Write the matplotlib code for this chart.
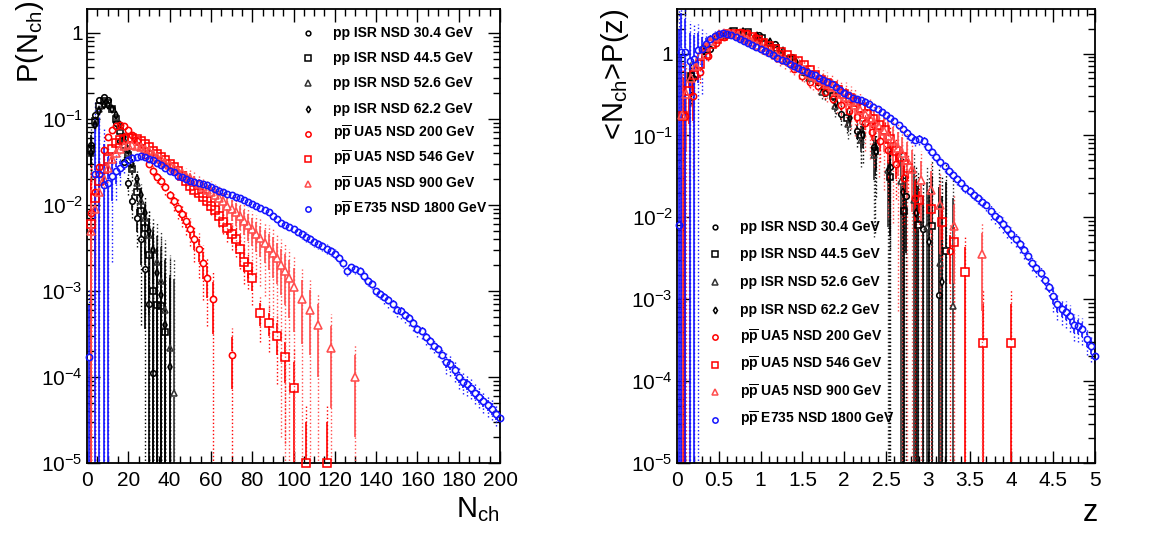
import numpy as np
import matplotlib
matplotlib.use("Agg")
import matplotlib.pyplot as plt
from matplotlib.ticker import MultipleLocator, FixedLocator, LogLocator, NullFormatter, FuncFormatter

plt.rcParams["font.family"] = ["Liberation Sans", "DejaVu Sans"]
plt.rcParams["mathtext.fontset"] = "custom"
plt.rcParams["mathtext.rm"] = "Liberation Sans"
plt.rcParams["mathtext.it"] = "Liberation Sans:italic"
plt.rcParams["mathtext.bf"] = "Liberation Sans:bold"

# ---------------- multiplicity distributions P(N_ch) ----------------
# rel errors are fractional statistical errors
n_isr304 = [2, 4, 6, 8, 10, 12, 14, 16, 18, 20, 22, 24, 26, 28, 30, 32]
p_isr304 = [0.05, 0.11, 0.165, 0.18, 0.165, 0.13, 0.09, 0.055, 0.032, 0.018,
            0.011, 0.007, 0.004, 0.0018, 0.0007, 0.00011]
e_isr304 = [0.3, 0.08, 0.05, 0.05, 0.05, 0.05, 0.06, 0.08, 0.1, 0.15,
            0.2, 0.3, 0.5, 0.8, 1.5, 20]

n_isr445 = [2, 4, 6, 8, 10, 12, 14, 16, 18, 20, 22, 24, 26, 28, 30, 32, 34, 36, 38]
p_isr445 = [0.045, 0.095, 0.14, 0.16, 0.155, 0.13, 0.10, 0.072, 0.05, 0.038,
            0.026, 0.014, 0.0085, 0.0054, 0.0026, 0.001, 0.00068, 0.00067, 0.00033]
e_isr445 = [0.3, 0.08, 0.05, 0.05, 0.05, 0.05, 0.05, 0.06, 0.08, 0.1,
            0.15, 0.2, 0.3, 0.5, 0.8, 1.2, 2.0, 3.0, 6.0]

n_isr526 = [2, 4, 6, 8, 10, 12, 14, 16, 18, 20, 22, 24, 26, 28, 30, 32, 34, 36, 38, 40, 42]
p_isr526 = [0.04, 0.09, 0.13, 0.15, 0.15, 0.13, 0.105, 0.08, 0.058, 0.04,
            0.027, 0.018, 0.011, 0.007, 0.0045, 0.003, 0.0022, 0.0013, 0.0006, 0.00022, 0.000065]
e_isr526 = [0.3, 0.08, 0.05, 0.05, 0.05, 0.05, 0.05, 0.05, 0.06, 0.08,
            0.1, 0.15, 0.2, 0.3, 0.5, 0.8, 1.0, 1.5, 2.5, 6.0, 20]

n_isr622 = [2, 4, 6, 8, 10, 12, 14, 16, 18, 20, 22, 24, 26, 28, 30, 32, 34, 36, 38, 40]
p_isr622 = [0.04, 0.085, 0.125, 0.145, 0.145, 0.13, 0.11, 0.085, 0.062, 0.044,
            0.03, 0.02, 0.013, 0.008, 0.005, 0.003, 0.0016, 0.0009, 0.0004, 0.00013]
e_isr622 = [0.3, 0.08, 0.05, 0.05, 0.05, 0.05, 0.05, 0.05, 0.06, 0.08,
            0.1, 0.15, 0.2, 0.3, 0.4, 0.6, 1.0, 1.5, 3.0, 10]

n_ua5200 = [2, 4, 6, 8, 10, 12, 14, 16, 18, 20, 22, 24, 26, 28, 30, 32, 34, 36, 38, 40,
            42, 44, 46, 48, 50, 52, 54, 56, 58, 61, 70]
p_ua5200 = [0.008, 0.014, 0.028, 0.044, 0.062, 0.074, 0.082, 0.085, 0.083, 0.075,
            0.065, 0.056, 0.047, 0.038, 0.030, 0.025, 0.021, 0.019, 0.016, 0.013,
            0.011, 0.0093, 0.0078, 0.0066, 0.0052, 0.0040, 0.0031, 0.0021, 0.0014, 0.0008, 0.00018]
e_ua5200 = [1.5, 0.5, 0.15, 0.08, 0.05, 0.05, 0.05, 0.05, 0.05, 0.05,
            0.05, 0.05, 0.05, 0.06, 0.06, 0.07, 0.08, 0.08, 0.1, 0.1,
            0.12, 0.14, 0.16, 0.18, 0.2, 0.25, 0.3, 0.35, 0.4, 0.6, 0.6]

n_ua5546 = [2, 4, 6, 8, 10, 12, 14, 16, 18, 20, 22, 24, 26, 28, 30, 32, 34, 36, 38, 40,
            42, 44, 46, 48, 50, 52, 54, 56, 58, 60, 62, 64, 66, 68, 70, 72, 74, 76, 78, 80,
            84, 88, 92, 96, 100, 106, 116]
p_ua5546 = [0.006, 0.012, 0.019, 0.026, 0.034, 0.045, 0.052, 0.057, 0.059, 0.060,
            0.060, 0.058, 0.055, 0.051, 0.047, 0.043, 0.039, 0.036, 0.033, 0.030,
            0.028, 0.025, 0.022, 0.019, 0.0165, 0.015, 0.0138, 0.0125, 0.011, 0.0098,
            0.0088, 0.0075, 0.0063, 0.0054, 0.0046, 0.0040, 0.0031, 0.0022, 0.0019, 0.0014,
            0.00056, 0.00043, 0.00030, 0.00017, 0.000075, 0.00001, 0.00001]
e_ua5546 = [2.0, 0.6, 0.2, 0.1, 0.06, 0.05, 0.05, 0.05, 0.05, 0.05,
            0.05, 0.05, 0.05, 0.05, 0.05, 0.05, 0.05, 0.05, 0.05, 0.05,
            0.06, 0.06, 0.07, 0.07, 0.08, 0.08, 0.09, 0.1, 0.11, 0.12,
            0.13, 0.14, 0.15, 0.17, 0.19, 0.21, 0.23, 0.25, 0.25, 0.28,
            0.3, 0.3, 0.4, 0.5, 1.0, 2.0, 2.0]

n_ua5900 = [2, 4, 6, 8, 10, 12, 14, 16, 18, 20, 22, 24, 26, 28, 30, 32, 34, 36, 38, 40,
            42, 44, 46, 48, 50, 52, 54, 56, 58, 60, 62, 64, 66, 68, 70, 72, 74, 76, 78, 80,
            82, 84, 86, 88, 90, 92, 94, 96, 98, 100, 104, 108, 112, 118, 130]
p_ua5900 = [0.005, 0.009, 0.014, 0.020, 0.027, 0.034, 0.040, 0.045, 0.048, 0.050,
            0.050, 0.049, 0.047, 0.045, 0.042, 0.039, 0.036, 0.034, 0.031, 0.029,
            0.027, 0.025, 0.0235, 0.022, 0.0205, 0.019, 0.0175, 0.016, 0.015, 0.014,
            0.013, 0.012, 0.011, 0.0098, 0.009, 0.0082, 0.0074, 0.0066, 0.0058, 0.0052,
            0.0046, 0.0041, 0.0036, 0.0032, 0.0028, 0.0024, 0.0020, 0.0017, 0.0014, 0.0011,
            0.0008, 0.0006, 0.0004, 0.00022, 0.0001]
e_ua5900 = [2.0, 0.8, 0.3, 0.15, 0.1, 0.08, 0.07, 0.07, 0.07, 0.07,
            0.07, 0.07, 0.07, 0.07, 0.08, 0.08, 0.08, 0.09, 0.09, 0.1,
            0.1, 0.11, 0.12, 0.13, 0.14, 0.15, 0.16, 0.17, 0.18, 0.2,
            0.2, 0.22, 0.24, 0.26, 0.28, 0.3, 0.3, 0.32, 0.34, 0.36,
            0.38, 0.4, 0.42, 0.45, 0.5, 0.5, 0.55, 0.6, 0.65, 0.7,
            0.7, 0.7, 0.75, 0.8, 0.8]

n_e735 = np.concatenate(([1], np.arange(4, 201, 2)))
p_e735 = [0.00017,
          0.023, 0.023, 0.017, 0.018, 0.022, 0.025, 0.027, 0.030, 0.033, 0.035,
          0.036, 0.037, 0.036, 0.034, 0.033, 0.031, 0.029, 0.027, 0.025, 0.024,
          0.022, 0.021, 0.020, 0.019, 0.0185, 0.018, 0.0175, 0.017, 0.016, 0.0152,
          0.0145, 0.014, 0.0135, 0.013, 0.0125, 0.012, 0.0113, 0.0108, 0.0103, 0.0097,
          0.0092, 0.0087, 0.0082, 0.0075, 0.0068, 0.0062, 0.0058, 0.0055, 0.0052, 0.0049,
          0.0046, 0.0043, 0.0040, 0.0037, 0.0035, 0.0033, 0.0031, 0.0029, 0.0027, 0.0024,
          0.0021, 0.0017, 0.0019, 0.0018, 0.0017, 0.0015, 0.0013, 0.0012, 0.0010, 0.00092,
          0.00085, 0.00078, 0.00070, 0.00060, 0.00058, 0.00052, 0.00048, 0.00042, 0.00036, 0.00034,
          0.00029, 0.00026, 0.00023, 0.00021, 0.00018, 0.00015, 0.00014, 0.00012, 0.00010, 0.000088,
          0.000082, 0.000075, 0.000066, 0.000059, 0.000052, 0.000047, 0.000043, 0.000037, 0.000033]
e_e735 = ([3.0, 3.3, 3.3, 2.0, 1.0, 0.5, 0.3, 0.2, 0.12, 0.08, 0.06]
          + [0.05] * 40 + [0.07] * 20 + [0.1] * 15 + [0.15] * 14)

# ---------------- KNO variables: z = N/<N>, <N>P(z) ----------------
mean_isr304 = 10.2
mean_isr445 = 11.8
mean_isr526 = 12.7
mean_isr622 = 12.6
mean_ua5200 = 21.4
mean_ua5546 = 29.0
mean_ua5900 = 35.6

# E735 KNO points
z_e735 = np.concatenate(([0.02], np.arange(1, 101) * 0.05))
psi_e735 = [0.008,
            1.05, 1.05, 0.80, 0.85, 1.10, 1.15, 1.30, 1.50, 1.65, 1.75,
            1.80, 1.75, 1.70, 1.60, 1.50, 1.42, 1.35, 1.27, 1.20, 1.13,
            1.07, 1.01, 0.95, 0.89, 0.84, 0.80, 0.75, 0.70, 0.66, 0.63,
            0.60, 0.57, 0.54, 0.51, 0.48, 0.45, 0.42, 0.39, 0.36, 0.33,
            0.31, 0.29, 0.28, 0.27, 0.255, 0.24, 0.225, 0.21, 0.195, 0.18,
            0.165, 0.15, 0.135, 0.12, 0.107, 0.095, 0.088, 0.09, 0.085, 0.072,
            0.062, 0.055, 0.048, 0.042, 0.037, 0.033, 0.029, 0.026, 0.023, 0.021,
            0.019, 0.017, 0.0155, 0.014, 0.012, 0.0105, 0.0095, 0.0083, 0.0072, 0.0062,
            0.0055, 0.0047, 0.0040, 0.0034, 0.0028, 0.0024, 0.0021, 0.0017, 0.0014, 0.0011,
            0.00088, 0.00075, 0.0007, 0.00062, 0.00048, 0.00047, 0.00043, 0.00033, 0.00027, 0.0002]
e_e735_kno = ([250, 2.0, 1.5, 1.2, 1.0, 0.6, 0.4, 0.2, 0.1, 0.08]
              + [0.05] * 45 + [0.08] * 20 + [0.12] * 15 + [0.2] * 11)

labels = ["pp ISR NSD 30.4 GeV", "pp ISR NSD 44.5 GeV", "pp ISR NSD 52.6 GeV",
          "pp ISR NSD 62.2 GeV",
          r"p$\mathbf{\overline{p}}$ UA5 NSD 200 GeV", r"p$\mathbf{\overline{p}}$ UA5 NSD 546 GeV",
          r"p$\mathbf{\overline{p}}$ UA5 NSD 900 GeV", r"p$\mathbf{\overline{p}}$ E735 NSD 1800 GeV"]

RED = "#ff0000"
PINK = "#ff4d4d"
BLUE = "#1515ff"
styles = [("black", "o", 4.0), ("black", "s", 5.0), ("#333333", "^", 4.5), ("black", "d", 4.0),
          (RED, "o", 4.5), (RED, "s", 5.5), (PINK, "^", 5.5), (BLUE, "o", 4.5)]

W, H = 1149, 533
fig = plt.figure(figsize=(W / 100, H / 100), dpi=100)
ax1 = fig.add_axes([87 / W, 1 - 463 / H, 413 / W, 454 / H])
ax2 = fig.add_axes([677 / W, 1 - 463 / H, 418 / W, 454 / H])

GAP = 1.1


def draw(ax, x, y, rel, color, marker, ms):
    x = np.asarray(x, float)
    y = np.asarray(y, float)
    e = y * np.asarray(rel, float)
    # dotted total error and solid stat error, bars stop at the marker edge
    for fac, ls, lw in ((1.8, ":", 1.0), (1.0, "-", 1.2)):
        hi = y + fac * e
        lo = np.maximum(y - fac * e, 1e-7)
        up = hi > y * GAP
        dn = lo < y / GAP
        ax.vlines(x[up], y[up] * GAP, hi[up], colors=color, linestyles=ls, linewidth=lw, zorder=2)
        ax.vlines(x[dn], lo[dn], y[dn] / GAP, colors=color, linestyles=ls, linewidth=lw, zorder=2)
    ax.plot(x, y, ls="none", marker=marker, ms=ms, mfc="none", mec=color, mew=1.15,
            zorder=3, clip_on=False)


left = [(n_isr304, p_isr304, e_isr304, mean_isr304),
        (n_isr445, p_isr445, e_isr445, mean_isr445),
        (n_isr526, p_isr526, e_isr526, mean_isr526),
        (n_isr622, p_isr622, e_isr622, mean_isr622),
        (n_ua5200, p_ua5200, e_ua5200, mean_ua5200),
        (n_ua5546, p_ua5546, e_ua5546, mean_ua5546),
        (n_ua5900, p_ua5900, e_ua5900, mean_ua5900)]

for (n, p, e, m), (c, mk, ms) in zip(left, styles):
    draw(ax1, n, p, e, c, mk, ms)
    draw(ax2, np.asarray(n) / m, np.asarray(p) * m, e, c, mk, ms)
draw(ax1, n_e735, p_e735, e_e735, *styles[7])
draw(ax2, z_e735, psi_e735, e_e735_kno, *styles[7])

ytick_vals = [1e-5, 1e-4, 1e-3, 1e-2, 1e-1, 1]
ytick_text = [r"$10^{-5}$", r"$10^{-4}$", r"$10^{-3}$", r"$10^{-2}$", r"$10^{-1}$", "1"]


def style_axes(ax, xmax, major, minor, ytop):
    ax.set_xlim(0, xmax)
    ax.set_yscale("log")
    ax.set_ylim(1e-5, ytop)
    ax.xaxis.set_major_locator(MultipleLocator(major))
    ax.xaxis.set_minor_locator(MultipleLocator(minor))
    ax.xaxis.set_major_formatter(FuncFormatter(lambda v, _: f"{v:g}"))
    ax.yaxis.set_major_locator(FixedLocator(ytick_vals))
    ax.set_yticklabels(ytick_text)
    ax.yaxis.set_minor_locator(LogLocator(base=10, subs=np.arange(2, 10), numticks=20))
    ax.yaxis.set_minor_formatter(NullFormatter())
    ax.tick_params(which="both", direction="in", top=True, right=True, width=1.0)
    ax.tick_params(which="major", length=9, labelsize=15)
    ax.tick_params(which="minor", length=5)
    ax.tick_params(axis="x", pad=6)
    ax.tick_params(axis="y", pad=3)
    for s in ax.spines.values():
        s.set_linewidth(1.3)


style_axes(ax1, 200, 20, 5, 1.9)
style_axes(ax2, 5, 0.5, 0.1, 3.5)

ax1.set_xlabel(r"N$_{\rm ch}$", fontsize=21, loc="right")
ax1.xaxis.set_label_coords(1.0, -0.07)
ax1.set_ylabel(r"P(N$_{\rm ch}$)", fontsize=21, loc="top")
ax1.yaxis.set_label_coords(-0.10, 1.02)
ax2.set_xlabel("z", fontsize=22, loc="right")
ax2.xaxis.set_label_coords(1.007, -0.078)
ax2.set_ylabel(r"<N$_{\rm ch}$>P(z)", fontsize=21, loc="top")
ax2.yaxis.set_label_coords(-0.11, 1.0)


def legend(ax, xm, xt, ytop, step):
    for i, (lab, (c, mk, ms)) in enumerate(zip(labels, styles)):
        y = ytop - i * step
        ax.plot([xm], [y], transform=ax.transAxes, ls="none", marker=mk, ms=ms * 0.85,
                mfc="none", mec=c, mew=1.1, clip_on=False)
        ax.text(xt, y, lab, transform=ax.transAxes, fontsize=10, fontweight="bold",
                va="center", ha="left")


legend(ax1, 0.535, 0.596, 0.947, 0.0554)
legend(ax2, 0.091, 0.151, 0.520, 0.0607)

fig.savefig("out.png", dpi=100, facecolor="white")
